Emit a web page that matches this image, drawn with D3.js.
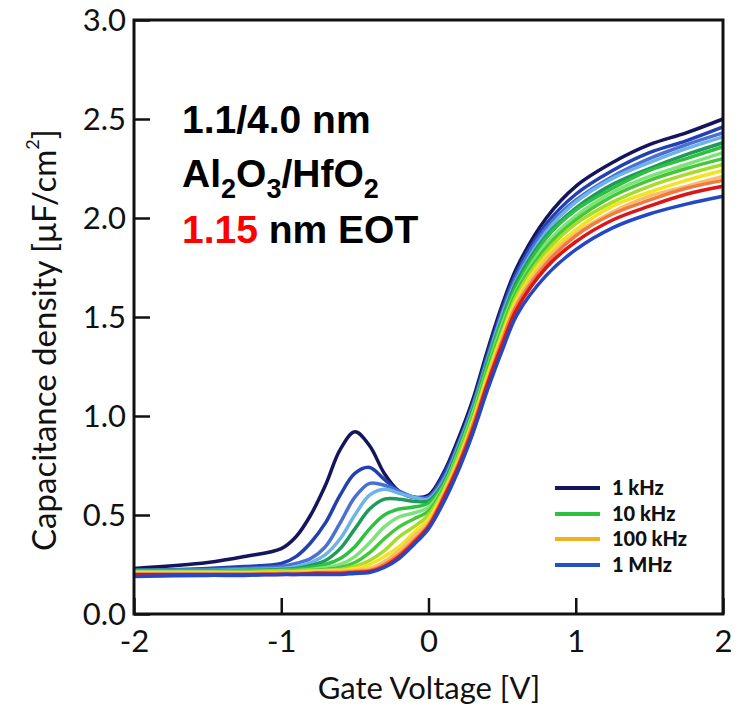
<!DOCTYPE html>
<html>
<head>
<meta charset="utf-8">
<script src="https://cdn.jsdelivr.net/npm/d3@7"></script>
<style>
  body { margin: 0; background: #fff; }
  .tick text { font-family: Lato, "Open Sans", sans-serif; font-size: 31px; fill: #111; }
  .axistitle { font-family: Lato, "Open Sans", sans-serif; font-size: 31px; fill: #111; }
  .note { font-family: "Liberation Sans", Arial, sans-serif; font-weight: bold; font-size: 39px; fill: #000; }
  .legendgroup text { font-family: Lato, "Open Sans", sans-serif; font-weight: 900; font-size: 20px; fill: #111; }
</style>
</head>
<body>
<svg class="cvsvg" width="741" height="710"></svg>
<script>
// gate voltage grid shared by all sweeps
var voltage = [-2, -1.5, -1.25, -1, -0.9, -0.8, -0.7, -0.6, -0.5, -0.4, -0.3, -0.2, -0.1, 0,
               0.1, 0.2, 0.3, 0.4, 0.5, 0.6, 0.8, 1.0, 1.25, 1.5, 1.75, 2.0];

// capacitance density per frequency, low -> high frequency
var c1k   = [0.23, 0.26, 0.29, 0.33, 0.39, 0.50, 0.65, 0.83, 0.92, 0.85, 0.71, 0.62, 0.59, 0.60, 0.71, 0.88, 1.08, 1.33, 1.56, 1.75, 2.00, 2.16, 2.28, 2.37, 2.43, 2.50];
var c2k   = [0.22, 0.23, 0.24, 0.255, 0.29, 0.36, 0.46, 0.60, 0.71, 0.74, 0.68, 0.62, 0.59, 0.59, 0.70, 0.86, 1.06, 1.31, 1.54, 1.73, 1.97, 2.12, 2.24, 2.33, 2.39, 2.46];
var c3k   = [0.22, 0.225, 0.23, 0.24, 0.255, 0.28, 0.34, 0.46, 0.59, 0.66, 0.65, 0.62, 0.59, 0.59, 0.68, 0.85, 1.05, 1.29, 1.52, 1.71, 1.95, 2.09, 2.21, 2.30, 2.37, 2.43];
var c5k   = [0.22, 0.22, 0.225, 0.23, 0.24, 0.26, 0.30, 0.38, 0.50, 0.60, 0.63, 0.61, 0.59, 0.58, 0.67, 0.84, 1.04, 1.28, 1.51, 1.69, 1.93, 2.08, 2.20, 2.28, 2.35, 2.41];
var c7k   = [0.22, 0.22, 0.22, 0.225, 0.23, 0.245, 0.27, 0.33, 0.43, 0.53, 0.58, 0.58, 0.57, 0.57, 0.66, 0.83, 1.03, 1.27, 1.49, 1.68, 1.91, 2.05, 2.17, 2.25, 2.32, 2.38];
var c10k  = [0.215, 0.215, 0.22, 0.22, 0.225, 0.235, 0.25, 0.28, 0.34, 0.43, 0.50, 0.53, 0.54, 0.56, 0.65, 0.82, 1.02, 1.26, 1.48, 1.66, 1.90, 2.04, 2.15, 2.24, 2.30, 2.36];
var c15k  = [0.215, 0.215, 0.215, 0.22, 0.22, 0.225, 0.235, 0.25, 0.29, 0.36, 0.44, 0.49, 0.51, 0.54, 0.64, 0.81, 1.01, 1.24, 1.46, 1.64, 1.87, 2.01, 2.13, 2.21, 2.27, 2.33];
var c20k  = [0.21, 0.21, 0.215, 0.215, 0.22, 0.22, 0.225, 0.235, 0.26, 0.31, 0.38, 0.44, 0.48, 0.52, 0.63, 0.80, 0.99, 1.23, 1.44, 1.63, 1.85, 1.99, 2.11, 2.19, 2.25, 2.30];
var c30k  = [0.21, 0.21, 0.21, 0.215, 0.215, 0.22, 0.22, 0.225, 0.24, 0.27, 0.32, 0.39, 0.44, 0.50, 0.62, 0.79, 0.98, 1.21, 1.42, 1.61, 1.83, 1.97, 2.08, 2.16, 2.22, 2.27];
var c50k  = [0.21, 0.21, 0.21, 0.21, 0.215, 0.215, 0.22, 0.22, 0.23, 0.25, 0.29, 0.34, 0.41, 0.48, 0.61, 0.77, 0.97, 1.20, 1.41, 1.59, 1.81, 1.94, 2.06, 2.13, 2.19, 2.24];
var c100k = [0.205, 0.205, 0.205, 0.21, 0.21, 0.21, 0.215, 0.215, 0.22, 0.23, 0.265, 0.32, 0.39, 0.46, 0.60, 0.76, 0.95, 1.18, 1.39, 1.57, 1.79, 1.92, 2.03, 2.11, 2.16, 2.21];
var c200k = [0.20, 0.20, 0.20, 0.205, 0.205, 0.205, 0.21, 0.21, 0.215, 0.22, 0.25, 0.30, 0.37, 0.45, 0.59, 0.75, 0.95, 1.17, 1.38, 1.56, 1.77, 1.91, 2.02, 2.09, 2.15, 2.19];
var c500k = [0.20, 0.20, 0.20, 0.20, 0.20, 0.205, 0.205, 0.205, 0.21, 0.215, 0.24, 0.29, 0.36, 0.44, 0.58, 0.74, 0.93, 1.16, 1.36, 1.54, 1.75, 1.88, 1.99, 2.06, 2.12, 2.16];
var c1M   = [0.19, 0.195, 0.195, 0.20, 0.20, 0.20, 0.20, 0.20, 0.205, 0.21, 0.235, 0.28, 0.35, 0.43, 0.56, 0.72, 0.91, 1.13, 1.33, 1.51, 1.71, 1.84, 1.95, 2.02, 2.07, 2.11];

var sweeps = [c1k, c2k, c3k, c5k, c7k, c10k, c15k, c20k, c30k, c50k, c100k, c200k, c500k, c1M];
var sweepColors = ["#15155c", "#2340b0", "#4a70d4", "#6cb4e8", "#1f9a5a", "#2ec040", "#7ee27a",
                   "#44c83a", "#a8dc28", "#f2e420", "#f8bc70", "#f07a40", "#d81818", "#2448c4"];

var legendLabels = ["1 kHz", "10 kHz", "100 kHz", "1 MHz"];
var legendColors = ["#15155c", "#2ec040", "#f0b020", "#2450c0"];

var xTicks = [-2, -1, 0, 1, 2];
var yTicks = [0, 0.5, 1, 1.5, 2, 2.5, 3];

var plot = {left: 134, right: 723, top: 20, bottom: 614};

var svg = d3.select(".cvsvg");
var x = d3.scaleLinear().domain([-2, 2]).range([plot.left, plot.right]);
var y = d3.scaleLinear().domain([0, 3]).range([plot.bottom, plot.top]);

function drawcurves()
{
	var line = d3.line()
	    .x(function(d) { return x(d[0]); })
	    .y(function(d) { return y(d[1]); })
	    .curve(d3.curveCatmullRom.alpha(0.5));

	svg.append("g")
	    .attr("class", "curves")
	    .selectAll("path")
	    .data(sweeps)
	    .enter()
	    .append("path")
		.attr("d", function(s) { return line(d3.zip(voltage, s)); })
		.attr("fill", "none")
		.attr("stroke", function(s, i) { return sweepColors[i]; })
		.attr("stroke-width", 3.5)
		.attr("stroke-linejoin", "round");
}

function drawaxes()
{
	var xaxis = svg.append("g")
	    .attr("transform", "translate(0," + plot.bottom + ")")
	    .call(d3.axisBottom(x).tickValues(xTicks).tickFormat(function(d) { return String(d); })
	          .tickSizeInner(-16).tickSizeOuter(0).tickPadding(12));
	var yaxis = svg.append("g")
	    .attr("transform", "translate(" + plot.left + ",0)")
	    .call(d3.axisLeft(y).tickValues(yTicks).tickFormat(d3.format(".1f"))
	          .tickSizeInner(-16).tickSizeOuter(0).tickPadding(8));

	[xaxis, yaxis].forEach(function(a) {
		a.select(".domain").remove();
		a.selectAll(".tick line").attr("stroke", "#111").attr("stroke-width", 2.5);
	});
	xaxis.selectAll(".tick text").attr("dy", "0.85em");
	yaxis.selectAll(".tick text").attr("dy", "0.35em");

	// frame
	svg.append("rect")
	    .attr("x", plot.left)
	    .attr("y", plot.top)
	    .attr("width", plot.right - plot.left)
	    .attr("height", plot.bottom - plot.top)
	    .attr("fill", "none")
	    .attr("stroke", "#111")
	    .attr("stroke-width", 3);

	svg.append("text")
	    .attr("class", "axistitle")
	    .attr("x", 429)
	    .attr("y", 699)
	    .style("text-anchor", "middle")
	    .text("Gate Voltage [V]");

	var yt = svg.append("text")
	    .attr("class", "axistitle")
	    .attr("transform", "translate(56,340) rotate(-90)")
	    .style("text-anchor", "middle")
	    .style("font-size", "33px");
	yt.append("tspan").text("Capacitance density [μF/cm");
	yt.append("tspan").attr("dy", -17).style("font-size", "18px").text("2");
	yt.append("tspan").attr("dy", 17).text("]");
}

function addnote()
{
	var note = svg.append("g").attr("class", "notegroup");

	note.append("text")
	    .attr("class", "note")
	    .attr("x", 182).attr("y", 133)
	    .text("1.1/4.0 nm");

	var t2 = note.append("text")
	    .attr("class", "note")
	    .attr("x", 182).attr("y", 187);
	t2.append("tspan").text("Al");
	t2.append("tspan").attr("dy", 11).style("font-size", "27px").text("2");
	t2.append("tspan").attr("dy", -11).text("O");
	t2.append("tspan").attr("dy", 11).style("font-size", "27px").text("3");
	t2.append("tspan").attr("dy", -11).text("/HfO");
	t2.append("tspan").attr("dy", 11).style("font-size", "27px").text("2");

	var t3 = note.append("text")
	    .attr("class", "note")
	    .attr("x", 182).attr("y", 243);
	t3.append("tspan").style("fill", "#ff0000").text("1.15");
	t3.append("tspan").text(" nm EOT");
}

function addlegend()
{
	var legendgroup = svg.append("g").attr("class", "legendgroup");
	var rows = [488, 514, 539, 565];

	legendLabels.forEach(function(label, i) {
		legendgroup
		   .append("line")
		   .attr("x1", 555).attr("y1", rows[i])
		   .attr("x2", 600).attr("y2", rows[i])
		   .attr("stroke", legendColors[i])
		   .attr("stroke-width", 4);
		legendgroup
		   .append("text")
		   .attr("x", 612)
		   .attr("y", rows[i] + 7)
		   .text(label);
	});
}

drawcurves();
drawaxes();
addnote();
addlegend();
</script>
</body>
</html>
